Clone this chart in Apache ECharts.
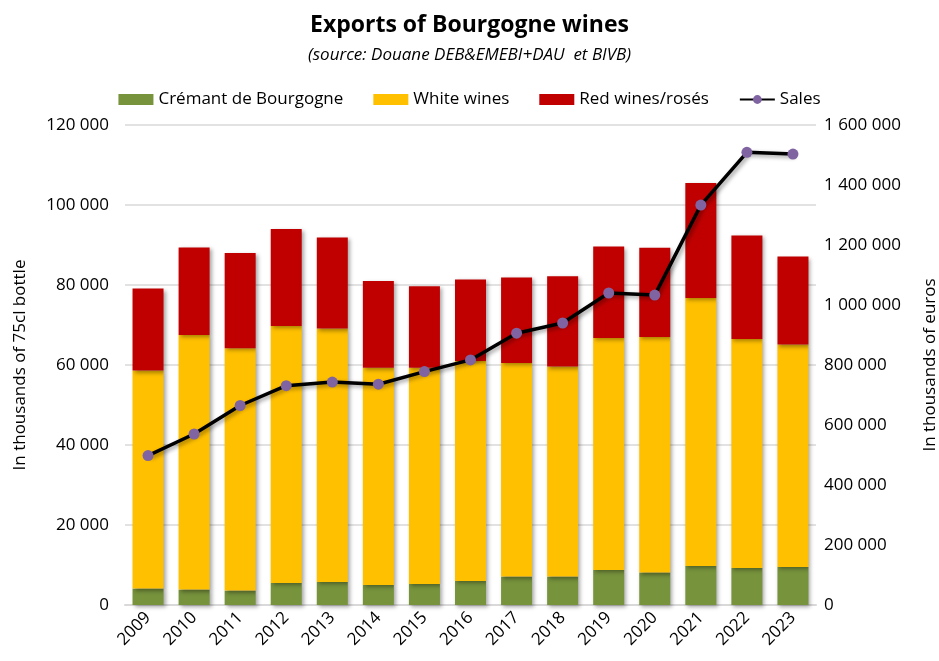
<!DOCTYPE html>
<html><head><meta charset="utf-8">
<script src="https://cdn.jsdelivr.net/npm/echarts@6/dist/echarts.min.js"></script>
<style>html,body{margin:0;padding:0;background:#fff}#c{width:939px;height:661px}</style>
</head><body><div id="c"></div>
<script>
const years = ['2009','2010','2011','2012','2013','2014','2015','2016','2017','2018','2019','2020','2021','2022','2023'];
// cumulative tops (thousands of bottles)
const cremant = [4100, 3850, 3600, 5500, 5750, 5000, 5250, 6000, 7100, 7100, 8750, 8100, 9750, 9250, 9500];
const whiteTop = [58600, 67500, 64200, 69750, 69100, 59300, 59300, 61000, 60500, 59600, 66750, 67000, 76750, 66500, 65100];
const redTop = [79100, 89400, 88000, 94000, 91900, 81000, 79700, 81400, 81900, 82200, 89600, 89300, 105500, 92400, 87100];
const sales = [498000, 570000, 665000, 731000, 743000, 736000, 778000, 817000, 906000, 940000, 1040000, 1033000, 1333000, 1509000, 1503000];

const white = whiteTop.map((v,i)=>v-cremant[i]);
const red = redTop.map((v,i)=>v-whiteTop[i]);

const FF = "'Open Sans', Lato, sans-serif";
const fmt = v => String(v).replace(/\B(?=(\d{3})+(?!\d))/g, ' ');
const shadow = {shadowBlur:4, shadowColor:'rgba(0,0,0,0.35)', shadowOffsetX:2, shadowOffsetY:2};

const chart = echarts.init(document.getElementById('c'));
chart.setOption({
  backgroundColor:'#fff',
  textStyle:{fontFamily:FF},
  title:[
    {text:'Exports of Bourgogne wines', left:'center', top:9, textStyle:{fontFamily:FF, fontSize:23, fontWeight:'bold', color:'#000'}},
    {text:'(source: Douane DEB&EMEBI+DAU  et BIVB)', left:'center', top:42, textStyle:{fontFamily:FF, fontSize:17, fontStyle:'italic', fontWeight:'normal', color:'#000'}}
  ],
  legend:{
    top:86, left:'center', itemWidth:35, itemHeight:11, itemGap:30,
    textStyle:{fontFamily:FF, fontSize:17, color:'#000'},
    data:[{name:'Crémant de Bourgogne', icon:'rect'},{name:'White wines', icon:'rect'},{name:'Red wines/rosés', icon:'rect'},{name:'Sales'}]
  },
  grid:{left:125, right:123, top:125, bottom:56, containLabel:false, outerBoundsMode:'none'},
  xAxis:{
    type:'category', data:years,
    axisLine:{lineStyle:{color:'#d9d9d9', width:2}},
    axisTick:{show:false},
    axisLabel:{rotate:45, fontSize:17, color:'#000', fontFamily:FF, margin:10}
  },
  yAxis:[
    {type:'value', min:0, max:120000, interval:20000,
     name:'In thousands of 75cl bottle', nameLocation:'middle', nameGap:96, nameRotate:90,
     nameTextStyle:{fontSize:17, color:'#000', fontFamily:FF},
     axisLine:{show:false}, axisTick:{show:false},
     axisLabel:{formatter:fmt, fontSize:17, color:'#000', fontFamily:FF, margin:16},
     splitLine:{lineStyle:{color:'#d9d9d9', width:1.5}}},
    {type:'value', min:0, max:1600000, interval:200000,
     name:'In thousands of euros', nameLocation:'middle', nameGap:106, nameRotate:90,
     nameTextStyle:{fontSize:17, color:'#000', fontFamily:FF},
     axisLine:{show:false}, axisTick:{show:false},
     axisLabel:{formatter:fmt, fontSize:17, color:'#000', fontFamily:FF, margin:8},
     splitLine:{show:false}}
  ],
  series:[
    {name:'Crémant de Bourgogne', type:'bar', stack:'w', data:cremant, barWidth:31, itemStyle:Object.assign({color:'#77933C'}, shadow)},
    {name:'White wines', type:'bar', stack:'w', data:white, barWidth:31, itemStyle:Object.assign({color:'#FFC000'}, shadow)},
    {name:'Red wines/rosés', type:'bar', stack:'w', data:red, barWidth:31, itemStyle:Object.assign({color:'#C00000'}, shadow)},
    {name:'Sales', type:'line', yAxisIndex:1, data:sales, symbol:'circle', symbolSize:11,
     lineStyle:{color:'#000', width:3.5, shadowBlur:4, shadowColor:'rgba(0,0,0,0.4)', shadowOffsetX:2, shadowOffsetY:2},
     itemStyle:{color:'#8064A2'}, z:5}
  ],
  animation:false
});
</script></body></html>
